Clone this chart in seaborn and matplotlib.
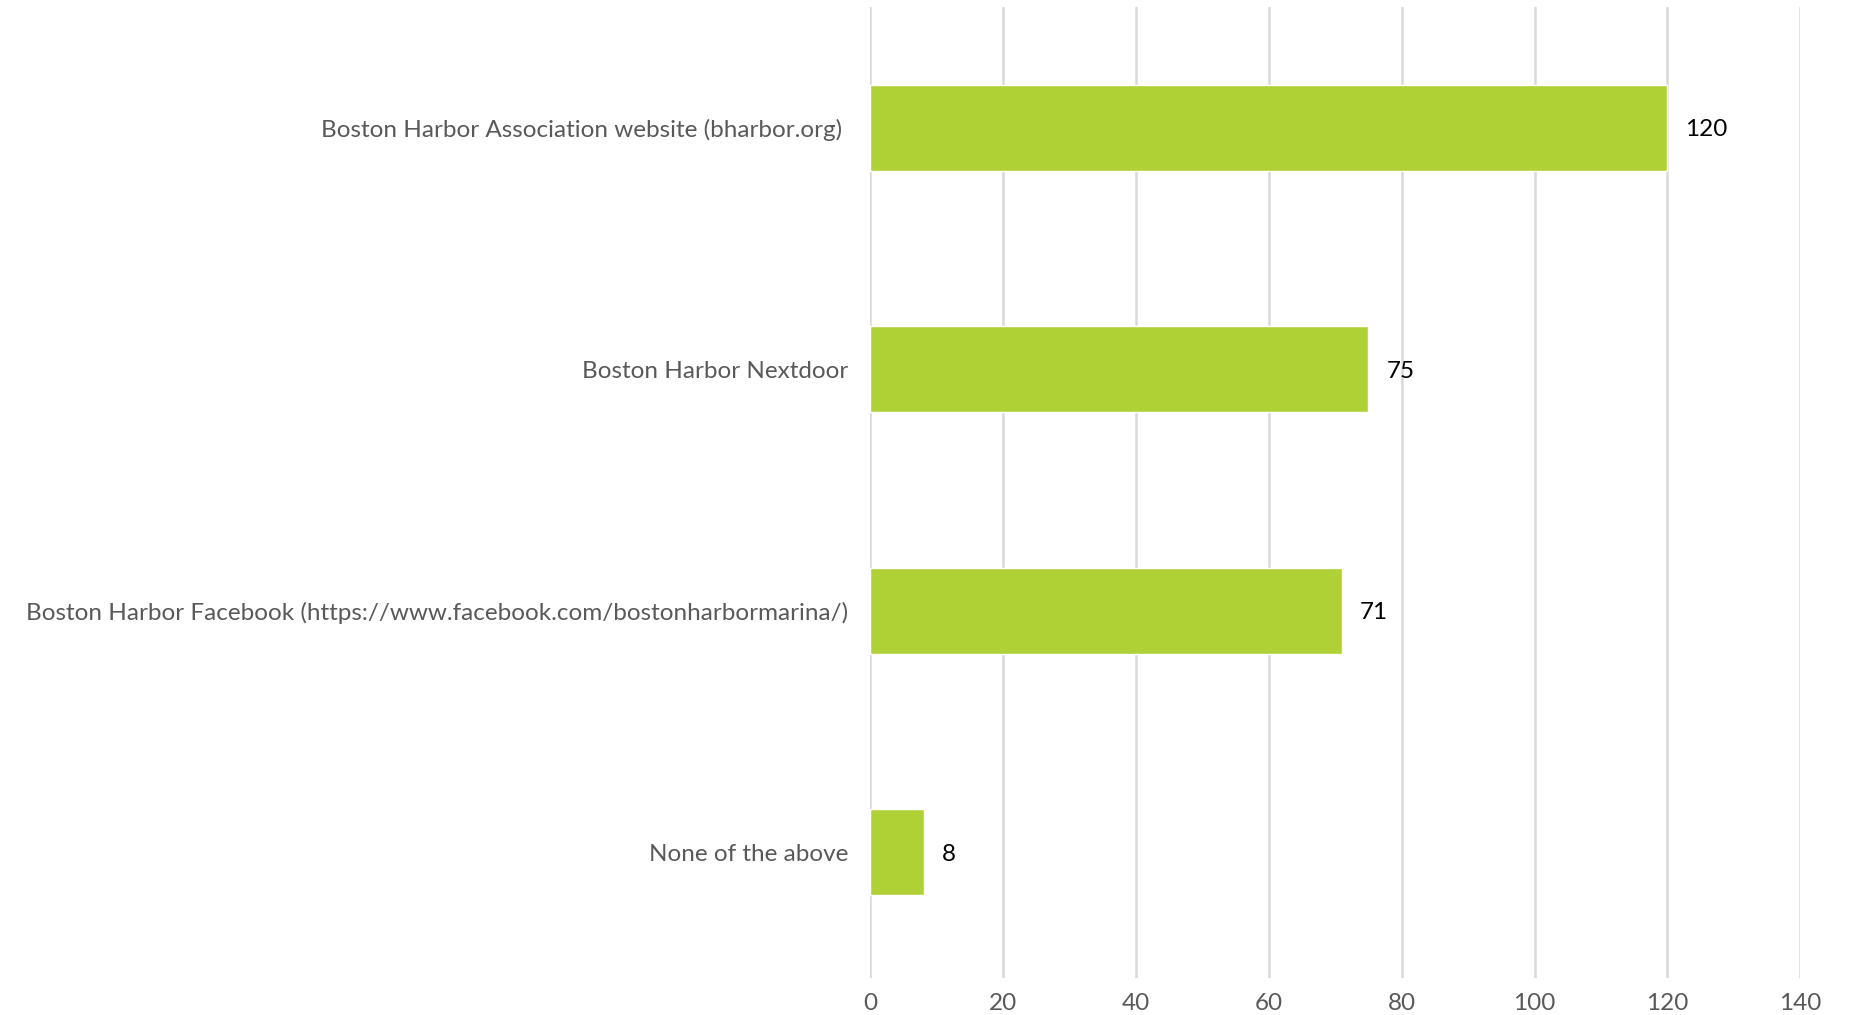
import seaborn as sns
import matplotlib.pyplot as plt
import pandas as pd

# survey responses
categories = [
    "Boston Harbor Association website (bharbor.org) ",
    "Boston Harbor Nextdoor",
    "Boston Harbor Facebook (https://www.facebook.com/bostonharbormarina/)",
    "None of the above",
]
counts = [120, 75, 71, 8]
x_ticks = [0, 20, 40, 60, 80, 100, 120, 140]

BAR_COLOR = "#B0D136"
TEXT_GREY = "#595959"
GRID_GREY = "#D9D9D9"


def plot_data(df):
    sns.set_theme(style="white")
    plt.rcParams['font.family'] = ['Lato', 'DejaVu Sans']

    fig = plt.figure(figsize=(18.52, 10.15), dpi=100)
    ax = fig.add_axes([0.470, 0.0365, 0.502, 0.9565])

    sns.barplot(data=df, x="count", y="category", color=BAR_COLOR,
                saturation=1, width=0.357, ax=ax, zorder=3)

    # value labels right of each bar
    for container in ax.containers:
        for t in ax.bar_label(container, padding=13, fontsize=17.5, color="black"):
            t.set_va("center_baseline")

    ax.set_xlim(0, 140)
    ax.set_ylim(3.52, -0.5)
    ax.set_xticks(x_ticks)
    ax.set_xticklabels([str(t) for t in x_ticks])
    ax.grid(axis="x", color=GRID_GREY, linewidth=1.8, zorder=0)
    ax.set_axisbelow(True)

    for s in ax.spines.values():
        s.set_visible(False)

    ax.tick_params(axis="x", length=0, pad=11, labelsize=17.5, labelcolor=TEXT_GREY)
    ax.tick_params(axis="y", length=0, pad=16, labelsize=17.5, labelcolor=TEXT_GREY)
    ax.set_xlabel("")
    ax.set_ylabel("")

    fig.savefig("out.png", dpi=100)


def main():
    df = pd.DataFrame({"category": categories, "count": counts})
    plot_data(df)


if __name__ == "__main__":
    main()
